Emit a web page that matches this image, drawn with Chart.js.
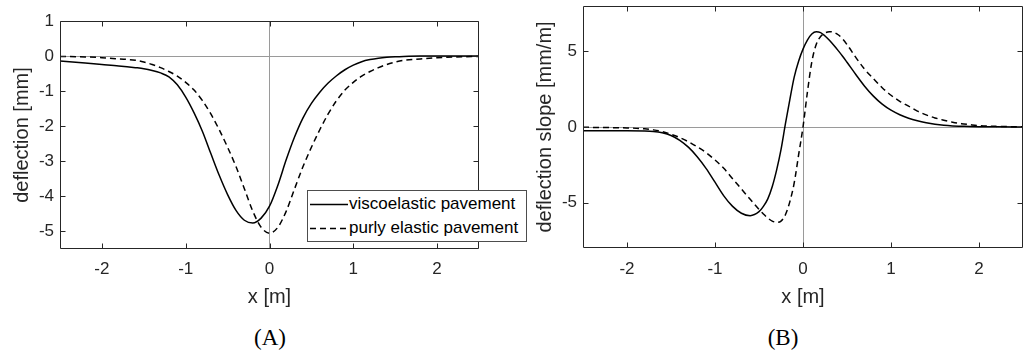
<!DOCTYPE html>
<html>
<head>
<meta charset="utf-8">
<script src="https://cdn.jsdelivr.net/npm/chart.js@4"></script>
<style>
  body { margin: 0; background: #fff; width: 1028px; height: 353px; overflow: hidden; position: relative; }
  .wrap { position: absolute; top: 0; }
  #wrapA { left: 0; }
  #wrapB { left: 510px; }
  .cap { position: absolute; top: 325px; width: 80px; margin-left: -40px; text-align: center;
         font-family: 'Liberation Serif', 'DejaVu Serif', serif; font-size: 23px; line-height: 26px; color: #000; }
  #legend { position: absolute; left: 307px; top: 190px; width: 220px; height: 52px; box-sizing: border-box;
            border: 1px solid #4d4d4d; background: #fff; }
  #legend .row { position: absolute; left: 0; height: 24px; width: 216px; }
  #legend svg { position: absolute; left: 2px; top: 0; }
  #legend span { position: absolute; left: 41px; top: 0; line-height: 24px; white-space: nowrap;
                 font-family: 'Liberation Sans', Arial, sans-serif; font-size: 17px; color: #000; }
</style>
</head>
<body>
<div class="wrap" id="wrapA"><canvas id="chartA" width="500" height="315"></canvas></div>
<div class="wrap" id="wrapB"><canvas id="chartB" width="518" height="315"></canvas></div>
<div id="legend"></div>
<div class="cap" style="left:270px">(A)</div>
<div class="cap" style="left:783px">(B)</div>
<script>
// tick values
const xTicks = [-2, -1, 0, 1, 2];
const yTicksA = [-5, -4, -3, -2, -1, 0, 1];
const yTicksB = [-5, 0, 5];

const seriesNames = ['viscoelastic pavement', 'purly elastic pavement'];

// (A) deflection [mm]
const xA = [-2.5, -2.2, -2.0, -1.8, -1.6, -1.5, -1.4, -1.3, -1.2, -1.1, -1.0, -0.9, -0.8, -0.7, -0.6, -0.5, -0.4, -0.3, -0.2, -0.1,
  0, 0.1, 0.2, 0.3, 0.4, 0.5, 0.6, 0.7, 0.8, 0.9, 1.0, 1.1, 1.2, 1.3, 1.4, 1.5, 1.6, 1.8, 2.0, 2.2, 2.5];
const viscoA = [-0.14, -0.20, -0.24, -0.28, -0.33, -0.36, -0.41, -0.48, -0.59, -0.82, -1.17, -1.62, -2.15, -2.78, -3.40, -3.95, -4.40, -4.68, -4.76, -4.62,
  -4.28, -3.68, -2.95, -2.30, -1.76, -1.35, -1.03, -0.77, -0.56, -0.39, -0.26, -0.16, -0.10, -0.06, -0.035, -0.02, -0.01, 0, 0, 0, 0];
const elasticA = [-0.01, -0.025, -0.045, -0.08, -0.12, -0.17, -0.24, -0.33, -0.44, -0.57, -0.75, -0.97, -1.27, -1.65, -2.10, -2.60, -3.15, -3.78, -4.42, -4.88,
  -5.05, -4.88, -4.42, -3.78, -3.15, -2.60, -2.10, -1.65, -1.27, -0.97, -0.75, -0.57, -0.44, -0.33, -0.24, -0.17, -0.12, -0.08, -0.045, -0.025, -0.01];

// (B) deflection slope [mm/m]
const xB = [-2.5, -2.2, -2.0, -1.8, -1.7, -1.6, -1.5, -1.4, -1.3, -1.2, -1.1, -1.0, -0.9, -0.8, -0.7, -0.6, -0.5,
  -0.45, -0.4, -0.35, -0.3, -0.25, -0.2, -0.15, -0.1, -0.05, 0, 0.05, 0.1, 0.15, 0.2, 0.25, 0.3, 0.35, 0.4, 0.45,
  0.5, 0.6, 0.7, 0.8, 0.9, 1.0, 1.1, 1.2, 1.3, 1.4, 1.5, 1.6, 1.7, 1.8, 1.9, 2.0, 2.2, 2.5];
const viscoB = [-0.25, -0.25, -0.25, -0.26, -0.29, -0.38, -0.56, -0.88, -1.35, -1.98, -2.75, -3.65, -4.55, -5.25, -5.70, -5.86, -5.60,
  -5.25, -4.75, -3.95, -2.85, -1.5, 0.2, 1.8, 3.3, 4.35, 5.15, 5.75, 6.15, 6.3, 6.24, 6.02, 5.73, 5.40, 5.05, 4.68,
  4.28, 3.47, 2.70, 2.04, 1.51, 1.11, 0.81, 0.58, 0.41, 0.28, 0.18, 0.11, 0.07, 0.05, 0.03, 0.02, 0.01, 0];
const elasticB = [-0.02, -0.04, -0.06, -0.12, -0.19, -0.30, -0.48, -0.70, -0.98, -1.32, -1.70, -2.18, -2.73, -3.42, -4.10, -4.78, -5.45,
  -5.75, -6.02, -6.22, -6.30, -6.22, -5.80, -4.95, -3.70, -1.85, 0, 2.3, 4.3, 5.45, 5.98, 6.22, 6.3, 6.26, 6.1, 5.82,
  5.45, 4.6, 3.82, 3.2, 2.6, 2.1, 1.7, 1.38, 1.05, 0.8, 0.6, 0.45, 0.32, 0.22, 0.15, 0.09, 0.04, 0.01];

const ink = '#262626';
const family = "'Liberation Sans', Arial, Helvetica, sans-serif";
const tickFont = { family, size: 17 };
const labelFont = { family, size: 20 };
const tickLen = 5;

Chart.defaults.font.family = family;

// box with inward tick marks on all four sides, like matlab's "box on"
const frame = {
  id: 'frame',
  afterDraw(chart) {
    const { ctx, chartArea: a, scales: { x, y } } = chart;
    const L = Math.round(a.left) + 0.5, R = Math.round(a.right) - 0.5;
    const T = Math.round(a.top) + 0.5, B = Math.round(a.bottom) - 0.5;
    ctx.save();
    ctx.strokeStyle = ink;
    ctx.lineWidth = 1;
    ctx.beginPath();
    ctx.rect(L, T, R - L, B - T);
    x.ticks.forEach(t => {
      const p = Math.round(x.getPixelForValue(t.value)) + 0.5;
      ctx.moveTo(p, B); ctx.lineTo(p, B - tickLen);
      ctx.moveTo(p, T); ctx.lineTo(p, T + tickLen);
    });
    y.ticks.forEach(t => {
      const p = Math.round(y.getPixelForValue(t.value)) + 0.5;
      ctx.moveTo(L, p); ctx.lineTo(L + tickLen, p);
      ctx.moveTo(R, p); ctx.lineTo(R - tickLen, p);
    });
    ctx.stroke();
    ctx.restore();
  }
};

const zeroLine = c => (c.tick && c.tick.value === 0 ? '#9a9a9a' : 'rgba(0,0,0,0)');
const pts = (xs, ys) => xs.map((x, i) => ({ x, y: ys[i] }));

function makeChart(id, xs, visco, elastic, yMin, yMax, yTicks, yTitle, box) {
  return new Chart(document.getElementById(id), {
    type: 'line',
    data: {
      datasets: [
        { label: seriesNames[0], data: pts(xs, visco), borderColor: '#000', borderWidth: 1.5,
          pointRadius: 0, cubicInterpolationMode: 'monotone', fill: false },
        { label: seriesNames[1], data: pts(xs, elastic), borderColor: '#000', borderWidth: 1.5, borderDash: [6, 4],
          pointRadius: 0, cubicInterpolationMode: 'monotone', fill: false }
      ]
    },
    options: {
      responsive: false,
      animation: false,
      events: [],
      layout: { padding: { left: 0, top: box.top, right: box.right, bottom: 0 } },
      plugins: { legend: { display: false }, tooltip: { enabled: false } },
      scales: {
        x: {
          type: 'linear', min: -2.5, max: 2.5,
          afterBuildTicks: s => { s.ticks = xTicks.map(v => ({ value: v })); },
          afterFit: s => { s.height = box.xh; s.paddingLeft = 0; s.paddingRight = 0; },
          ticks: { font: tickFont, color: ink, padding: box.xpad, maxRotation: 0, autoSkip: false, callback: v => String(v) },
          grid: { color: zeroLine, drawTicks: false },
          border: { display: false },
          title: { display: true, text: 'x [m]', font: labelFont, color: ink, padding: { top: 0, bottom: box.xtpad } }
        },
        y: {
          type: 'linear', min: yMin, max: yMax,
          afterBuildTicks: s => { s.ticks = yTicks.map(v => ({ value: v })); },
          afterFit: s => { s.width = box.yw; s.paddingTop = 0; s.paddingBottom = 0; },
          ticks: { font: tickFont, color: ink, padding: 6, autoSkip: false, callback: v => String(v) },
          grid: { color: zeroLine, drawTicks: false },
          border: { display: false },
          title: { display: true, text: yTitle, font: labelFont, color: ink, padding: { top: box.ytpad, bottom: 0 } }
        }
      }
    },
    plugins: [frame]
  });
}

const chartA = makeChart('chartA', xA, viscoA, elasticA, -5.5, 1, yTicksA, 'deflection [mm]',
  { top: 21, right: 21, xh: 66, xpad: 10, xtpad: 6, yw: 60, ytpad: 10.5 });
const chartB = makeChart('chartB', xB, viscoB, elasticB, -8, 8, yTicksB, 'deflection slope [mm/m]',
  { top: 6, right: 5, xh: 67, xpad: 11, xtpad: 5.5, yw: 73, ytpad: 23 });

// legend of panel A, inside its axes
const legend = document.getElementById('legend');
chartA.data.datasets.forEach((ds, i) => {
  const row = document.createElement('div');
  row.className = 'row';
  row.style.top = (i * 24 + 1) + 'px';
  const dash = (ds.borderDash || []).join(' ');
  row.innerHTML = '<svg width="38" height="24"><line x1="0" y1="12.5" x2="38" y2="12.5" stroke="#000" stroke-width="1.5"' +
    (dash ? ' stroke-dasharray="' + dash + '"' : '') + '/></svg><span></span>';
  row.querySelector('span').textContent = ds.label;
  legend.appendChild(row);
});
</script>
</body>
</html>
